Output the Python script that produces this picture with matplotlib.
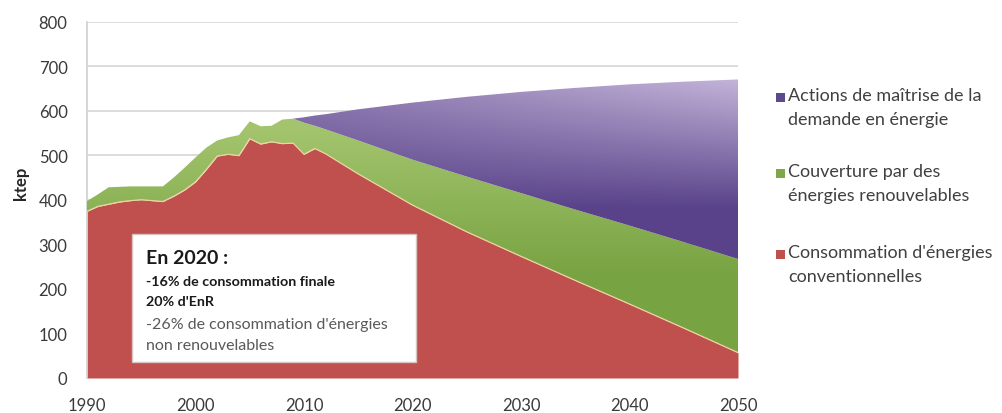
import matplotlib
matplotlib.use('Agg')
import matplotlib.pyplot as plt
import numpy as np
from matplotlib.patches import Rectangle

plt.rcParams['font.family'] = ['Lato', 'DejaVu Sans']

# ---- data (ktep) ----
annees = [1990, 1991, 1992, 1993, 1994, 1995, 1996, 1997, 1998, 1999,
          2000, 2001, 2002, 2003, 2004, 2005, 2006, 2007, 2008, 2009,
          2010, 2011, 2012, 2015, 2020, 2025, 2030, 2035, 2040, 2045, 2050]
# top of red area: conventional energy consumption
conso_conventionnelle = [374, 385, 390, 395, 398, 400, 398, 396, 408, 422,
                         440, 468, 498, 502, 499, 537, 525, 530, 526, 527,
                         502, 515, 503, 458, 388, 328, 273, 219, 166, 112, 57]
# top of green area: conventional + renewables (final consumption)
conso_totale = [397, 412, 428, 429, 430, 430, 430, 430, 450, 472,
                495, 517, 533, 540, 545, 576, 565, 566, 580, 582,
                573, 566, 558, 533, 490, 452, 415, 378, 342, 305, 267]
# top of purple area: trend consumption without demand-side actions (from 2009)
annees_tendance = [2009, 2010, 2011, 2012, 2015, 2020, 2025, 2030, 2035, 2040, 2045, 2050]
conso_tendancielle = [582, 585, 589, 592, 603, 618, 631, 642, 651, 659, 665, 670]

x_ticks = [1990, 2000, 2010, 2020, 2030, 2040, 2050]
y_ticks = [0, 100, 200, 300, 400, 500, 600, 700, 800]

legende = ["Actions de maîtrise de la\ndemande en énergie",
           "Couverture par des\nénergies renouvelables",
           "Consommation d'énergies\nconventionnelles"]

fig = plt.figure(figsize=(10.02, 4.14), dpi=100)
ax = fig.add_axes([87 / 1002, 35 / 414, 651 / 1002, 356.5 / 414])
ax.set_xlim(1990, 2050)
ax.set_ylim(0, 800)

# grid
ax.set_yticks(y_ticks)
ax.set_xticks(x_ticks)
ax.yaxis.grid(True, color='#D9D9D9', lw=1.3, zorder=0)
ax.set_axisbelow(True)
for s in ['top', 'right', 'bottom']:
    ax.spines[s].set_visible(False)
ax.spines['left'].set_color('#D0D0D0')
ax.spines['left'].set_linewidth(1.2)
ax.tick_params(length=0, colors='#3A3A3A', labelsize=12)
ax.tick_params(axis='y', pad=14)
ax.tick_params(axis='x', pad=14)

# red area
ax.fill_between(annees, 0, conso_conventionnelle, color='#C0504D', lw=0, zorder=2)

Xg, Yg = np.meshgrid(np.linspace(1990, 2050, 400), np.linspace(0, 800, 500))

# green area with gradient
poly_g = ax.fill_between(annees, conso_conventionnelle, conso_totale,
                         facecolor='none', lw=0, zorder=3)
tg = np.clip((Yg - 230) / 330, 0, 1)[..., None]
g_dark = np.array([0.47, 0.64, 0.26])
g_light = np.array([0.64, 0.77, 0.43])
img_g = g_dark + tg * (g_light - g_dark)
im_g = ax.imshow(img_g, extent=[1990, 2050, 0, 800], origin='lower',
                 aspect='auto', zorder=3, interpolation='bilinear')
im_g.set_clip_path(poly_g.get_paths()[0], poly_g.get_transform())

# purple area with gradient
bas_p = [conso_totale[annees.index(a)] for a in annees_tendance]
poly_p = ax.fill_between(annees_tendance, bas_p, conso_tendancielle,
                         facecolor='none', lw=0, zorder=3)
ty = np.clip((Yg - 380) / 300, 0, 1)
tx = np.clip((Xg - 2008) / 42, 0, 1)
tp = (ty * (0.5 + 0.5 * tx))[..., None]
p_dark = np.array([0.35, 0.26, 0.54])
p_light = np.array([0.78, 0.72, 0.86])
img_p = p_dark + tp * (p_light - p_dark)
im_p = ax.imshow(img_p, extent=[1990, 2050, 0, 800], origin='lower',
                 aspect='auto', zorder=3, interpolation='bilinear')
im_p.set_clip_path(poly_p.get_paths()[0], poly_p.get_transform())

# thin pale line between red and green
ax.plot(annees, conso_conventionnelle, color='#EBD3A0', lw=0.9, zorder=4)

ax.set_xlim(1990, 2050)
ax.set_ylim(0, 800)

# annotation box
ax.add_patch(Rectangle((0.069, 0.045), 0.436, 0.359, transform=ax.transAxes,
                       facecolor='white', edgecolor='#D9C4C4', lw=1.0, zorder=6))
tx0 = 0.0906
ax.text(tx0, 0.3386, "En 2020 :", transform=ax.transAxes, fontsize=14,
        fontweight='bold', color='#1A1A1A', va='center', zorder=7)
ax.text(tx0, 0.273, "-16% de consommation finale", transform=ax.transAxes,
        fontsize=10.3, fontweight='bold', color='#1A1A1A', va='center', zorder=7)
ax.text(tx0, 0.217, "20% d'EnR", transform=ax.transAxes,
        fontsize=10.3, fontweight='bold', color='#1A1A1A', va='center', zorder=7)
ax.text(tx0, 0.151, "-26% de consommation d'énergies", transform=ax.transAxes,
        fontsize=11.5, color='#595959', va='center', zorder=7)
ax.text(tx0, 0.0926, "non renouvelables", transform=ax.transAxes,
        fontsize=11.5, color='#595959', va='center', zorder=7)

# y label
fig.text(21 / 1002, (414 - 183) / 414, "ktep", rotation=90, fontsize=12,
         fontweight='bold', color='#262626', ha='center', va='center')

# legend (manual)
couleurs_leg = ['#5B4A8C', '#7FA74A', '#C0504D']
y_centres = [98, 174, 255]
for lab, col, yc in zip(legende, couleurs_leg, y_centres):
    fig.patches.append(Rectangle((776 / 1002, (414 - yc - 5) / 414), 9 / 1002, 9 / 414,
                                 transform=fig.transFigure, facecolor=col,
                                 edgecolor='none'))
    fig.text(788 / 1002, (414 - yc + 10) / 414, lab, fontsize=13, color='#404040',
             ha='left', va='top', linespacing=1.62,
             transform=fig.transFigure)

fig.savefig('out.png', dpi=100)
